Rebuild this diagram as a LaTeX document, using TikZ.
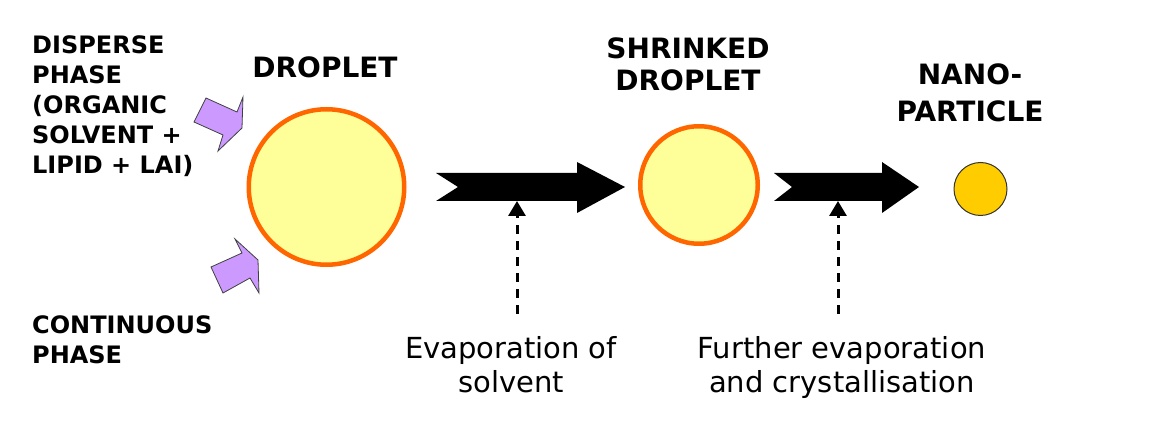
\documentclass[tikz,border=0pt]{standalone}
\usepackage{fontspec}
\setmainfont{DejaVu Sans}
\usetikzlibrary{arrows.meta,positioning}
\definecolor{dropedge}{HTML}{FF6600}
\definecolor{dropfill}{HTML}{FFFF99}
\definecolor{nanofill}{HTML}{FFCC00}
\definecolor{phasefill}{HTML}{CC99FF}

\begin{document}
\begin{tikzpicture}[x=1pt, y=-1pt,
  drop/.style={circle, draw=dropedge, line width=4.5pt, fill=dropfill, inner sep=0pt},
  nano/.style={circle, draw=black!80, line width=1pt, fill=nanofill, inner sep=0pt, minimum size=53pt},
  phase/.style={draw=black!75, line width=0.8pt, fill=phasefill},
  head/.style={font=\fontsize{28}{32}\selectfont\bfseries, align=center, inner sep=0pt},
  side/.style={font=\fontsize{24}{30}\selectfont\bfseries, align=left, inner sep=0pt, anchor=north west},
  note/.style={font=\fontsize{29}{34}\selectfont, align=center, inner sep=0pt, anchor=north},
  cause/.style={-{Triangle[width=17pt,length=15pt]}, line width=3pt, dash pattern=on 9pt off 7pt}
]
\useasboundingbox (0,0) rectangle (1176,430);

% the three stages
\node[drop, minimum size=155.5pt] (droplet) at (326.5,187) {};
\node[drop, minimum size=117.5pt] (shrink) at (699,185) {};
\node[nano] (particle) at (980.5,189) {};

\node[head, anchor=base] (t1) at (325,78) {DROPLET};
\node[head, anchor=north] (t2) at (688,38) {SHRINKED\\DROPLET};
\node[head, anchor=north] (t3) at (970,64) {NANO-\\[5pt]PARTICLE};

% inputs
\node[side] (disp) at (32,35) {DISPERSE\\PHASE\\(ORGANIC\\SOLVENT +\\LIPID + LAI)};
\node[side] (cont) at (32,315) {CONTINUOUS\\PHASE};
\draw[phase] (206,98) -- (237,112) -- (243,97) -- (242,128) -- (218,151) -- (223,135) -- (194,122) -- cycle;
\draw[phase] (211,267) -- (242,253) -- (235,239) -- (258,260) -- (259,293) -- (250,278) -- (223,293) -- cycle;

% process arrows
\fill (436,173) -- (577,173) -- (577,162) -- (625,187) -- (577,213) -- (577,201) -- (436,201) -- (458,187) -- cycle;
\fill (774,173) -- (882,173) -- (882,162) -- (919,187) -- (882,213) -- (882,201) -- (774,201) -- (792,187) -- cycle;
\coordinate (hitA) at (517,201);
\coordinate (hitB) at (838,201);

\node[note] (evap) at (511,336) {Evaporation of\\solvent};
\node[note] (cryst) at (842,336) {Further evaporation\\and crystallisation};
\draw[cause] (hitA |- evap.north) ++(0,-22) -- (hitA);
\draw[cause] (hitB |- cryst.north) ++(0,-22) -- (hitB);
\end{tikzpicture}
\end{document}
